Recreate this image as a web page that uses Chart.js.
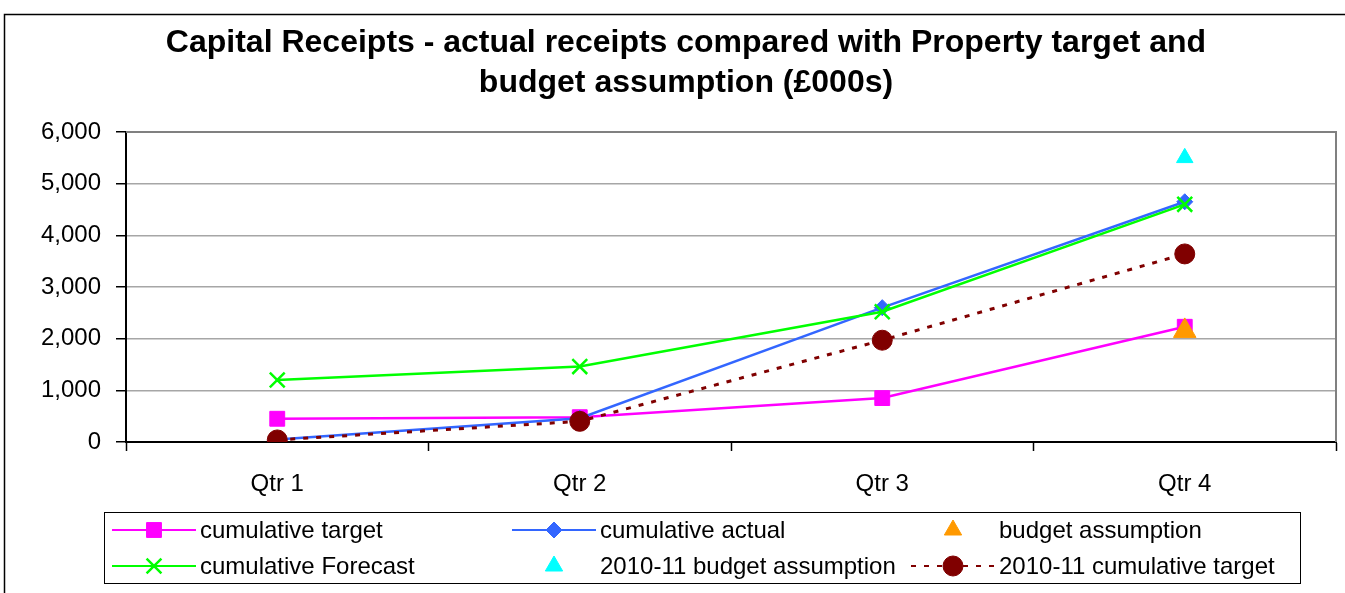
<!DOCTYPE html>
<html>
<head>
<meta charset="utf-8">
<script src="https://cdn.jsdelivr.net/npm/chart.js@4/dist/chart.umd.min.js"></script>
<style>
  html, body { margin: 0; padding: 0; background: #fff; overflow: hidden; }
  #wrap { width: 1345px; height: 593px; overflow: hidden; }
</style>
</head>
<body>
<div id="wrap"><canvas id="receiptsChart" width="1350" height="593"></canvas></div>
<script>
// data (£000s)
const quarters = ['Qtr 1', 'Qtr 2', 'Qtr 3', 'Qtr 4'];
const cumTarget = [450, 480, 850, 2230];
const cumActual = [50, 460, 2600, 4650];
const budgetAssumption = [null, null, null, 2150];
const cumForecast = [1200, 1460, 2520, 4600];
const budget1011 = [null, null, null, 5500];
const cumTarget1011 = [40, 400, 1970, 3640];
const titleLines = ['Capital Receipts - actual receipts compared with Property target and', 'budget assumption (£000s)'];

const FONT = '"Liberation Sans", Arial, sans-serif';

// frame, title, plot border, legend
const decorations = {
    id: 'decorations',
    beforeDraw(chart) {
        const ctx = chart.ctx;
        ctx.save();
        ctx.strokeStyle = '#000';
        ctx.lineWidth = 1.5;
        ctx.beginPath();
        ctx.moveTo(4.5, 600);
        ctx.lineTo(4.5, 14.5);
        ctx.lineTo(1350, 14.5);
        ctx.stroke();
        ctx.fillStyle = '#000';
        ctx.font = 'bold 32px ' + FONT;
        ctx.textAlign = 'center';
        ctx.textBaseline = 'middle';
        ctx.fillText(titleLines[0], 686, 43);
        ctx.fillText(titleLines[1], 686, 83);
        ctx.restore();
    },
    beforeDatasetsDraw(chart) {
        const a = chart.chartArea, ctx = chart.ctx;
        ctx.save();
        ctx.strokeStyle = '#808080';
        ctx.lineWidth = 2;
        ctx.beginPath();
        ctx.moveTo(a.left, a.top);
        ctx.lineTo(a.right, a.top);
        ctx.lineTo(a.right, a.bottom);
        ctx.stroke();
        ctx.restore();
    },
    afterDraw(chart) {
        const ctx = chart.ctx;
        ctx.save();
        ctx.strokeStyle = '#000';
        ctx.lineWidth = 1;
        ctx.strokeRect(104.5, 512.5, 1196, 71);
        const order = [0, 4, 1, 3, 2, 5]; // legend slots -> dataset index
        const cols = [154, 554, 953];
        const rows = [530, 566];
        order.forEach((di, k) => {
            const ds = chart.data.datasets[di];
            const cx = cols[k % 3], cy = rows[Math.floor(k / 3)];
            if (ds.showLine !== false) {
                ctx.strokeStyle = ds.borderColor;
                ctx.lineWidth = 2;
                ctx.setLineDash(ds.borderDash || []);
                ctx.beginPath();
                ctx.moveTo(cx - 42, cy);
                ctx.lineTo(cx + 42, cy);
                ctx.stroke();
                ctx.setLineDash([]);
            }
            ctx.fillStyle = ds.pointBackgroundColor;
            ctx.strokeStyle = ds.pointBorderColor;
            ctx.lineWidth = ds.pointBorderWidth;
            Chart.helpers.drawPoint(ctx, {
                pointStyle: ds.pointStyle,
                radius: ds.legendRadius,
                rotation: 0,
                borderWidth: ds.pointBorderWidth
            }, cx, cy);
            ctx.fillStyle = '#000';
            ctx.font = '24px ' + FONT;
            ctx.textAlign = 'left';
            ctx.textBaseline = 'middle';
            ctx.fillText(ds.label, cx + 46, cy + 1);
        });
        ctx.restore();
    }
};

const mk = (label, data, color, style, radius, extra) => Object.assign({
    label: label,
    data: data,
    borderColor: color,
    backgroundColor: color,
    pointBackgroundColor: color,
    pointBorderColor: color,
    pointBorderWidth: 1,
    borderWidth: 2.5,
    pointStyle: style,
    pointRadius: radius,
    pointHoverRadius: radius,
    legendRadius: radius,
    tension: 0,
    spanGaps: false
}, extra || {});

new Chart(document.getElementById('receiptsChart'), {
    type: 'line',
    data: {
        labels: quarters,
        datasets: [
            mk('cumulative target', cumTarget, '#FF00FF', 'rect', 10.5, { order: 6 }),
            mk('budget assumption', budgetAssumption, '#FF9900', 'triangle', 13, { showLine: false, order: 1, legendRadius: 10 }),
            mk('2010-11 budget assumption', budget1011, '#00FFFF', 'triangle', 9.5, { showLine: false, order: 2, legendRadius: 10 }),
            mk('cumulative Forecast', cumForecast, '#00FF00', 'crossRot', 10.5, { pointBorderWidth: 2.5, order: 3 }),
            mk('cumulative actual', cumActual, '#3366FF', 'rectRot', 8, { order: 5 }),
            mk('2010-11 cumulative target', cumTarget1011, '#800000', 'circle', 10, { borderDash: [5, 8], borderWidth: 3, order: 4 })
        ]
    },
    options: {
        responsive: false,
        animation: false,
        layout: { padding: { top: 132, right: 0, left: 0, bottom: 0 } },
        plugins: {
            legend: { display: false },
            title: { display: false },
            tooltip: { enabled: false }
        },
        scales: {
            x: {
                offset: true,
                afterFit(scale) {
                    scale.height = 151;
                    scale.paddingLeft = 0;
                    scale.paddingRight = 0;
                },
                grid: { offset: true, drawOnChartArea: false, tickLength: 9, color: '#000', tickWidth: 1.5 },
                border: { color: '#000', width: 2 },
                ticks: { color: '#000', padding: 19, font: { family: FONT, size: 24 } }
            },
            y: {
                min: 0,
                max: 6000,
                afterFit(scale) { scale.width = 126; },
                grid: { color: '#a6a6a6', lineWidth: 1.5, tickLength: 10, tickColor: '#000', drawTicks: true },
                border: { color: '#000', width: 2 },
                ticks: {
                    stepSize: 1000,
                    color: '#000',
                    padding: 15,
                    font: { family: FONT, size: 24 },
                    callback: v => v.toLocaleString('en-GB')
                }
            }
        }
    },
    plugins: [decorations]
});
</script>
</body>
</html>
